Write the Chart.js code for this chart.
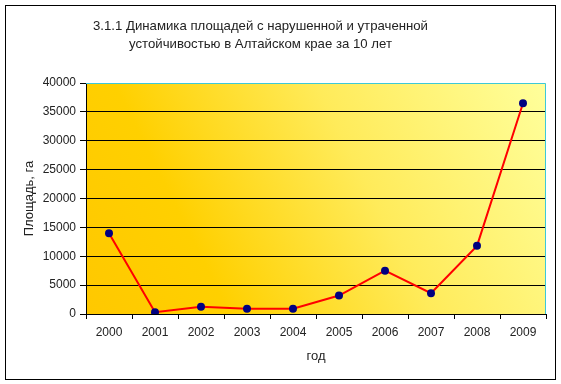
<!DOCTYPE html>
<html>
<head>
<meta charset="utf-8">
<script src="https://cdn.jsdelivr.net/npm/chart.js@4"></script>
<style>
  html, body { margin: 0; padding: 0; background: #fff; }
  #wrap { width: 561px; height: 384px; }
</style>
</head>
<body>
<div id="wrap"><canvas id="c" width="561" height="384"></canvas></div>
<script>
const categories = ['2000','2001','2002','2003','2004','2005','2006','2007','2008','2009'];
const areaValues = [14000, 300, 1250, 900, 900, 3200, 7500, 3600, 11800, 36500];
const titleLines = ['3.1.1 Динамика площадей с нарушенной и утраченной', 'устойчивостью в Алтайском крае за 10 лет'];
const yAxisTitle = 'Площадь, га';
const xAxisTitle = 'год';

const FONT = "'Liberation Sans', Arial, sans-serif";

const decor = {
  id: 'decor',
  beforeDraw(chart) {
    const ctx = chart.ctx;
    const a = chart.chartArea;
    ctx.save();
    ctx.fillStyle = '#fff';
    ctx.fillRect(0, 0, chart.width, chart.height);
    const g = ctx.createLinearGradient(a.left, a.bottom, a.right, a.top);
    g.addColorStop(0, '#FFC800');
    g.addColorStop(0.25, '#FFD000');
    g.addColorStop(0.6, '#FFEB5A');
    g.addColorStop(1, '#FFFF9C');
    ctx.fillStyle = g;
    ctx.fillRect(a.left, a.top, a.right - a.left, a.bottom - a.top);
    ctx.restore();
  },
  beforeDatasetsDraw(chart) {
    const ctx = chart.ctx;
    const a = chart.chartArea;
    ctx.save();
    ctx.strokeStyle = '#3CC8D8';
    ctx.lineWidth = 1;
    ctx.beginPath();
    ctx.moveTo(a.left, Math.round(a.top) + 0.5);
    ctx.lineTo(Math.round(a.right) - 0.5, Math.round(a.top) + 0.5);
    ctx.lineTo(Math.round(a.right) - 0.5, a.bottom);
    ctx.stroke();
    ctx.restore();
  },
  afterDraw(chart) {
    const ctx = chart.ctx;
    ctx.save();
    ctx.strokeStyle = '#000';
    ctx.lineWidth = 1;
    ctx.strokeRect(5.5, 5.5, 550, 374);
    ctx.fillStyle = '#222';
    ctx.font = '13.2px ' + FONT;
    ctx.textAlign = 'center';
    ctx.textBaseline = 'middle';
    ctx.fillText(titleLines[0], 260.5, 26);
    ctx.fillText(titleLines[1], 260.5, 44);
    ctx.restore();
  }
};

new Chart(document.getElementById('c'), {
  type: 'line',
  data: {
    labels: categories,
    datasets: [{
      data: areaValues,
      borderColor: '#FF0000',
      borderWidth: 2,
      pointBackgroundColor: '#000080',
      pointBorderColor: '#000080',
      pointRadius: 4,
      pointBorderWidth: 0,
      tension: 0,
      fill: false
    }]
  },
  options: {
    responsive: false,
    animation: false,
    devicePixelRatio: 1,
    layout: { padding: { left: 18, right: 15, top: 83, bottom: 20 } },
    plugins: {
      legend: { display: false },
      tooltip: { enabled: false },
      title: { display: false }
    },
    scales: {
      x: {
        offset: true,
        afterFit(s) { s.height = 50; },
        grid: { offset: true, drawOnChartArea: false, color: '#000', tickLength: 5 },
        border: { color: '#000', width: 1 },
        ticks: { color: '#222', padding: 6, maxRotation: 0, font: { family: FONT, size: 12 } },
        title: { display: true, text: xAxisTitle, color: '#222', padding: 0, font: { family: FONT, size: 13, lineHeight: 1.2 } }
      },
      y: {
        min: 0,
        max: 40000,
        afterFit(s) { s.width = 68; },
        grid: {
          color: (c) => (c.tick && c.tick.value === 40000) ? 'rgba(0,0,0,0)' : '#000',
          tickColor: '#000',
          tickLength: 6
        },
        border: { color: '#000', width: 1 },
        ticks: {
          stepSize: 5000,
          color: '#222',
          padding: 4,
          font: { family: FONT, size: 12 },
          callback: (v) => String(v)
        },
        title: { display: true, text: yAxisTitle, color: '#222', padding: { top: 4, bottom: 0 }, font: { family: FONT, size: 13, lineHeight: 1.2 } }
      }
    }
  },
  plugins: [decor]
});
</script>
</body>
</html>
